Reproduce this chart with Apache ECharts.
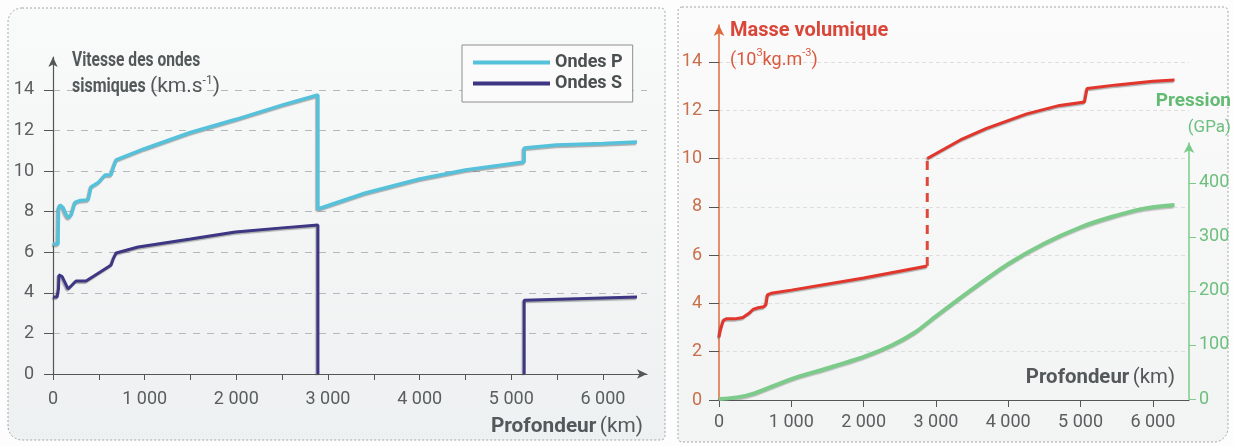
<!DOCTYPE html>
<html>
<head>
<meta charset="utf-8">
<script src="https://cdn.jsdelivr.net/npm/echarts@6/dist/echarts.min.js"></script>
<style>
  html, body { margin: 0; padding: 0; background: #fdfdfd; }
  #chart { width: 1233px; height: 446px; }
</style>
</head>
<body>
<div id="chart"></div>
<script>
// depth (km) / velocity (km/s)
const ondesP = [
  [0, 6.4], [55, 6.4], [60, 8.1], [75, 8.33], [110, 8.2], [145, 7.85], [170, 7.7],
  [200, 7.85], [240, 8.45], [300, 8.55], [383, 8.58], [400, 8.9], [415, 9.22],
  [500, 9.45], [568, 9.8], [634, 9.82], [660, 10.2], [690, 10.55], [1000, 11.1],
  [1500, 11.9], [2000, 12.55], [2500, 13.25], [2890, 13.75], [2890, 8.13],
  [3410, 8.92], [4000, 9.61], [4500, 10.05], [5140, 10.45], [5140, 11.14],
  [5490, 11.28], [6000, 11.36], [6371, 11.43]
]
const ondesS = [
  [0, 3.8], [45, 3.8], [60, 4.2], [65, 4.88], [100, 4.8], [164, 4.19], [200, 4.35],
  [251, 4.58], [361, 4.58], [601, 5.27], [634, 5.37], [660, 5.7], [689, 5.96],
  [929, 6.26], [1500, 6.65], [1989, 7.0], [2500, 7.2], [2890, 7.34], [2890, 0],
  [4000, '-'], [5140, 0], [5140, 3.64], [6371, 3.8]
]
// depth (km) / density (10^3 kg.m-3)
const densiteManteau = [
  [0, 2.6], [20, 2.9], [60, 3.3], [100, 3.36], [220, 3.36], [330, 3.42],
  [420, 3.6], [470, 3.75], [540, 3.82], [620, 3.86], [650, 3.95], [670, 4.35],
  [720, 4.42], [1000, 4.55], [2000, 5.05], [2880, 5.55]
]
const densiteNoyau = [
  [2880, 10.0], [3338, 10.77], [3700, 11.25], [4256, 11.85], [4710, 12.2],
  [5055, 12.34], [5090, 12.9], [5500, 13.05], [6000, 13.2], [6300, 13.25]
]
const sautDensite = [[2880, 5.55], [2880, 10.0]]
// depth (km) / pressure (GPa)
const pression = [
  [0, 0], [250, 3], [500, 11], [1000, 37], [1500, 57], [2000, 78], [2400, 100],
  [2720, 124], [3000, 153], [3500, 203], [4000, 250], [4500, 288],
  [5000, 318], [5400, 336], [5860, 352], [6300, 359]
]

const xTicksGauche = [0, 500, 1000, 1500, 2000, 2500, 3000, 3500, 4000, 4500, 5000, 5500, 6000]
const xLabels = [0, 1000, 2000, 3000, 4000, 5000, 6000]
const yTicks = [0, 2, 4, 6, 8, 10, 12, 14]
const pressionTicks = [0, 100, 200, 300, 400]

const FONT = "Roboto, 'Open Sans', sans-serif"
const GRIS = '#53595a'

const milliers = v => String(v).replace(/\B(?=(\d{3})+(?!\d))/g, ' ')

const chart = echarts.init(document.getElementById('chart'))

// text anchored at (x, y), squeezed horizontally around that anchor when sx < 1
const texte = (x, y, align, sx, style) => ({
  type: 'text', x: x, y: y, scaleX: sx, z: 5, silent: true,
  style: Object.assign({ align: align, verticalAlign: 'middle' }, style)
})

const rich = (color, size, supSize) => ({
  b: { fontFamily: FONT, fontWeight: 'bold', fontSize: size, fill: color, lineHeight: 24 },
  r: { fontFamily: FONT, fontSize: size, fill: color, lineHeight: 24 },
  sup: { fontFamily: FONT, fontSize: supSize || 11, fill: color, verticalAlign: 'top', lineHeight: 14 }
})

const option = {
  animation: false,
  textStyle: { fontFamily: FONT },
  graphic: [
    {
      type: 'rect', z: -10, silent: true,
      shape: { x: 8, y: 8, width: 657, height: 432, r: [14, 4, 4, 14] },
      style: {
        fill: new echarts.graphic.LinearGradient(0, 0, 0, 1, [
          { offset: 0, color: '#f9fafa' },
          { offset: 1, color: '#eef1f1' }
        ]),
        stroke: '#a4a4a4', lineWidth: 1, lineDash: [2, 2]
      }
    },
    {
      type: 'rect', z: -10, silent: true,
      shape: { x: 678, y: 7, width: 550, height: 435, r: [4, 4, 14, 4] },
      style: {
        fill: new echarts.graphic.LinearGradient(0, 0, 0, 1, [
          { offset: 0, color: '#fbfbfb' },
          { offset: 1, color: '#f2f3f3' }
        ]),
        stroke: '#a4a4a4', lineWidth: 1, lineDash: [2, 2]
      }
    },
    texte(72, 61, 'left', 0.78, { text: 'Vitesse des ondes', font: 'bold 20px ' + FONT, fill: GRIS }),
    texte(72, 87, 'left', 0.8, { text: 'sismiques', font: 'bold 20px ' + FONT, fill: GRIS }),
    texte(150, 87, 'left', 1, { text: '{r|(km.s}{sup|-1}{r|)}', rich: rich(GRIS, 21, 12) }),
    texte(643, 427, 'right', 1.04, { text: '{b|Profondeur} {r|(km)}', rich: rich(GRIS, 20) }),
    texte(730, 31, 'left', 1, { text: 'Masse volumique', font: 'bold 20px ' + FONT, fill: '#d9473a' }),
    texte(730, 60, 'left', 1, { text: '{r|(10}{sup|3}{r|kg.m}{sup|-3}{r|)}', rich: rich('#d9583e', 18) }),
    texte(1231, 101, 'right', 1, { text: 'Pression', font: 'bold 19px ' + FONT, fill: '#63bb73' }),
    texte(1231, 128, 'right', 1, { text: '(GPa)', font: '17px ' + FONT, fill: '#6dbf7e' }),
    texte(1175, 378, 'right', 1.02, { text: '{b|Profondeur} {r|(km)}', rich: rich(GRIS, 20) })
  ],
  legend: {
    data: ['Ondes P', 'Ondes S'],
    orient: 'vertical',
    left: 462,
    top: 45,
    padding: [7, 10, 8, 11],
    itemGap: 0,
    itemWidth: 77,
    itemHeight: 4,
    icon: 'rect',
    borderColor: '#8e8e8e',
    borderWidth: 1,
    backgroundColor: '#fbfbfb',
    textStyle: { fontFamily: FONT, fontWeight: 'bold', fontSize: 18, color: '#4a4f50', lineHeight: 21 }
  },
  grid: [
    { left: 53, right: 586, top: 57, bottom: 72 },
    { left: 719, right: 44, top: 25, bottom: 46 },
    { left: 719, right: 44, top: 143, bottom: 47 }
  ],
  xAxis: [
    {
      gridIndex: 0, type: 'value', min: 0, max: 6480,
      axisLine: { lineStyle: { color: '#555', width: 1.2 }, symbol: ['none', 'arrow'], symbolSize: [7, 10] },
      axisTick: { customValues: xTicksGauche, length: 6, lineStyle: { color: '#555' } },
      axisLabel: { customValues: xLabels, formatter: milliers, margin: 16, fontSize: 18, color: '#5a5e5f', fontFamily: FONT },
      splitLine: { show: false }
    },
    {
      gridIndex: 1, type: 'value', min: 0, max: 6500,
      axisLine: { lineStyle: { color: '#555', width: 1.2 } },
      axisTick: { customValues: xLabels, length: 7, lineStyle: { color: '#555' } },
      axisLabel: { customValues: xLabels, formatter: milliers, margin: 13, fontSize: 18, color: '#5a5e5f', fontFamily: FONT },
      splitLine: { show: false }
    },
    { gridIndex: 2, type: 'value', min: 0, max: 6500, show: false }
  ],
  yAxis: [
    {
      gridIndex: 0, type: 'value', min: 0, max: 15.62,
      axisLine: { show: true, onZero: false, lineStyle: { color: '#555', width: 1.2 }, symbol: ['none', 'arrow'], symbolSize: [7, 10] },
      axisTick: { show: true, customValues: yTicks, length: 9, lineStyle: { color: '#555' } },
      axisLabel: { customValues: yTicks, margin: 19, fontSize: 18, color: '#5a5e5f', fontFamily: FONT },
      splitLine: { show: true, lineStyle: { color: '#b4b8ba', type: [7, 7] } }
    },
    {
      gridIndex: 1, type: 'value', min: 0, max: 15.53,
      axisLine: { show: true, onZero: false, lineStyle: { color: '#e06a3e', width: 1.5 }, symbol: ['none', 'arrow'], symbolSize: [8, 11] },
      axisTick: { show: true, customValues: yTicks, length: 10, lineStyle: { color: '#555' } },
      axisLabel: { customValues: yTicks, margin: 17, fontSize: 18, color: '#c8704c', fontFamily: FONT },
      splitLine: { show: true, lineStyle: { color: '#dedede', type: [4, 3] } }
    },
    {
      gridIndex: 2, type: 'value', min: 0, max: 474, position: 'right',
      axisLine: { show: true, onZero: false, lineStyle: { color: '#7ccb8a', width: 1.5 }, symbol: ['none', 'arrow'], symbolSize: [8, 10] },
      axisTick: { show: true, customValues: pressionTicks, length: 7, lineStyle: { color: '#7ccb8a' } },
      axisLabel: { customValues: pressionTicks, margin: 10, fontSize: 18, color: '#6dbf7e', fontFamily: FONT },
      splitLine: { show: false }
    }
  ],
  series: [
    {
      name: 'Ondes P', type: 'line', xAxisIndex: 0, yAxisIndex: 0, data: ondesP,
      symbol: 'none', color: '#56c1da',
      lineStyle: { width: 3.5, color: '#56c1da', shadowColor: 'rgba(80,80,80,0.45)', shadowOffsetX: -1, shadowOffsetY: 1.5, shadowBlur: 1 }
    },
    {
      name: 'Ondes S', type: 'line', xAxisIndex: 0, yAxisIndex: 0, data: ondesS,
      symbol: 'none', color: '#3d3683', connectNulls: false,
      lineStyle: { width: 3, color: '#3d3683', shadowColor: 'rgba(80,80,80,0.45)', shadowOffsetX: -1, shadowOffsetY: 1.5, shadowBlur: 1 }
    },
    {
      name: 'Masse volumique', type: 'line', xAxisIndex: 1, yAxisIndex: 1, data: densiteManteau,
      symbol: 'none', color: '#e2352c',
      lineStyle: { width: 3, color: '#e2352c', shadowColor: 'rgba(80,80,80,0.45)', shadowOffsetX: -1, shadowOffsetY: 1.5, shadowBlur: 1 }
    },
    {
      name: 'Masse volumique noyau', type: 'line', xAxisIndex: 1, yAxisIndex: 1, data: densiteNoyau,
      symbol: 'none', color: '#e2352c',
      lineStyle: { width: 3, color: '#e2352c', shadowColor: 'rgba(80,80,80,0.45)', shadowOffsetX: -1, shadowOffsetY: 1.5, shadowBlur: 1 }
    },
    {
      name: 'Saut', type: 'line', xAxisIndex: 1, yAxisIndex: 1, data: sautDensite,
      symbol: 'none', color: '#e0483a',
      lineStyle: { width: 3, color: '#e0483a', type: [9, 7] }
    },
    {
      name: 'Pression', type: 'line', xAxisIndex: 2, yAxisIndex: 2, data: pression,
      symbol: 'none', smooth: 0.25, color: '#7ccb8a',
      lineStyle: { width: 4, color: '#7ccb8a', shadowColor: 'rgba(80,80,80,0.35)', shadowOffsetX: -1, shadowOffsetY: 1.5, shadowBlur: 1 }
    }
  ]
}

chart.setOption(option)
window.addEventListener('resize', () => chart.resize())
</script>
</body>
</html>
